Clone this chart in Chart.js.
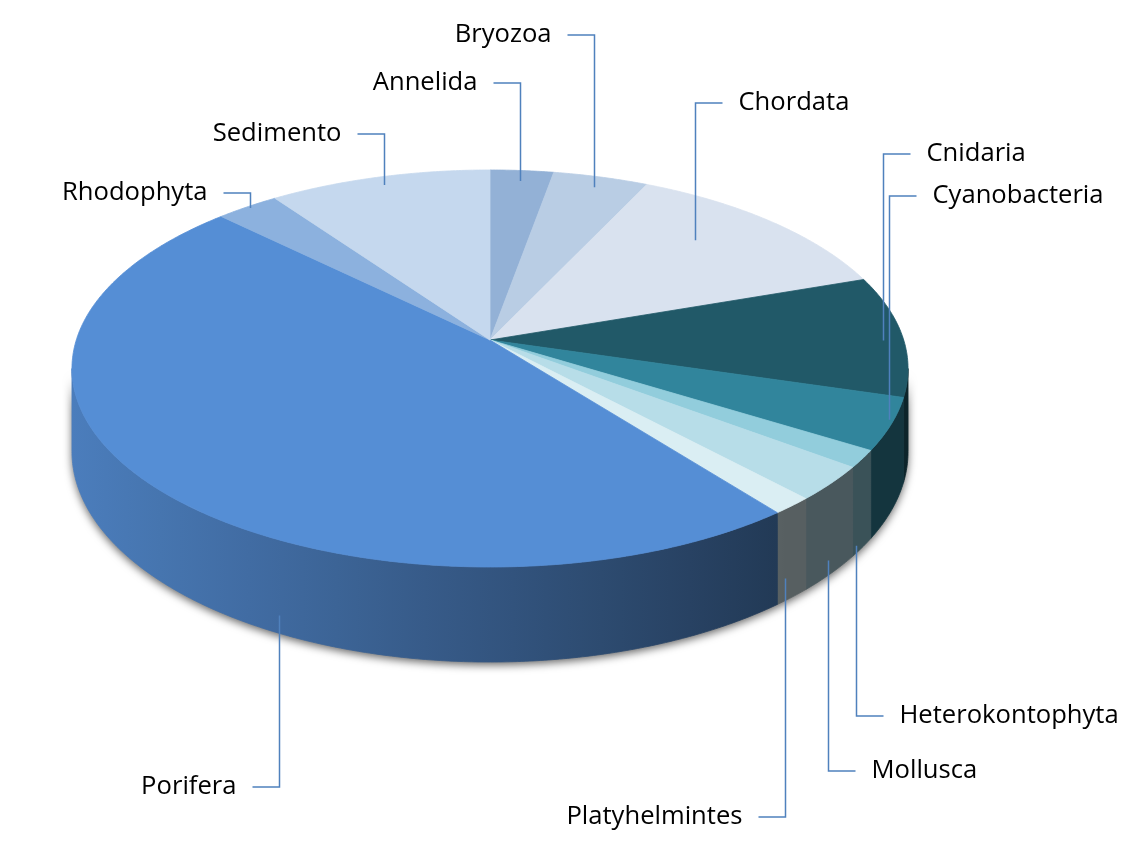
<!DOCTYPE html>
<html>
<head>
<meta charset="utf-8">
<title>Phyla</title>
<style>
	html, body { margin: 0; padding: 0; background: #ffffff; }
	#pieChart { display: block; }
</style>
</head>
<body>
<canvas id="pieChart" width="1131" height="846"></canvas>
<script src="https://cdn.jsdelivr.net/npm/chart.js@4/dist/chart.umd.min.js"></script>
<script>
const categories = [
	'Annelida',
	'Bryozoa',
	'Chordata',
	'Cnidaria',
	'Cyanobacteria',
	'Heterokontophyta',
	'Mollusca',
	'Platyhelmintes',
	'Porifera',
	'Rhodophyta',
	'Sedimento',
];
const counts = [2, 3, 9, 7, 3, 1, 2, 1, 34, 2, 7];
const topColors = [
	'#93b1d6',
	'#b9cde4',
	'#d9e2ef',
	'#215968',
	'#31859c',
	'#92cddc',
	'#b7dde8',
	'#daeef3',
	'#558ed5',
	'#8cb1de',
	'#c5d8ee',
];

// callout placement: text row, text side of the elbow, spot on the slice
// (at = fraction along the slice, r = radius on the top face, wall = height down the side)
const callouts = [
	{ y: 83, side: 'left', at: 0.5, r: 0.93 },
	{ y: 35, side: 'left', at: 0.5, r: 0.93 },
	{ y: 103, side: 'right', at: 0.41, r: 0.77 },
	{ y: 154, side: 'right', at: 0.54, r: 0.95 },
	{ y: 196, side: 'right', at: 0.43, r: 0.99 },
	{ y: 716, side: 'right', at: 0.8, wall: 0.92 },
	{ y: 771, side: 'right', at: 0.57, wall: 0.83 },
	{ y: 817, side: 'left', at: 0.73, wall: 0.76 },
	{ y: 787, side: 'left', at: 0.374, wall: 0.81 },
	{ y: 193, side: 'left', at: 0.5, r: 0.99 },
	{ y: 134, side: 'left', at: 0.5, r: 0.945 },
];

// tilt / perspective of the disc, relative to the pie radius
const SCALE_X = 1.2168;
const SCALE_Y = 0.5718;
const DEPTH = 0.2394;
const PERSPECTIVE = 0.1435;

function shade(hex, f) {
	const n = parseInt(hex.slice(1), 16);
	const r = Math.round(((n >> 16) & 255) * f);
	const g = Math.round(((n >> 8) & 255) * f);
	const b = Math.round((n & 255) * f);
	return `rgb(${r},${g},${b})`;
}

function project(geo, theta, r, h) {
	const u = r * Math.sin(theta);
	const v = r * Math.cos(theta);
	const w = 1 + PERSPECTIVE * v;
	return {
		x: geo.cx + (geo.a * u) / w,
		y: geo.cy + (-geo.b * v + geo.d * h) / w,
	};
}

function geometry(chart) {
	const arc = chart.getDatasetMeta(0).data[0];
	const R = arc.outerRadius;
	return { cx: arc.x, cy: arc.y, a: R * SCALE_X, b: R * SCALE_Y, d: R * DEPTH };
}

// chart.js angles start at -PI/2; theta is measured clockwise from 12 o'clock
function sliceAngles(arc) {
	return [arc.startAngle + Math.PI / 2, arc.endAngle + Math.PI / 2];
}

function traceEdge(ctx, geo, from, to, h, first, shiftX = 0) {
	const steps = Math.max(2, Math.ceil(Math.abs(to - from) / 0.008));
	for (let i = 0; i <= steps; i++) {
		const p = project(geo, from + ((to - from) * i) / steps, 1, h);
		if (i === 0 && first) ctx.moveTo(p.x + shiftX, p.y);
		else ctx.lineTo(p.x + shiftX, p.y);
	}
}

const pie3d = {
	id: 'pie3d',
	beforeDatasetsDraw(chart) {
		const ctx = chart.ctx;
		const geo = geometry(chart);
		const arcs = chart.getDatasetMeta(0).data;
		const colors = chart.data.datasets[0].backgroundColor;
		const rimStart = Math.PI / 2 + Math.asin(PERSPECTIVE);
		const rimEnd = 2 * Math.PI - rimStart;

		// soft shadow under the rim (shape drawn off canvas, only its shadow lands)
		const off = 5000;
		ctx.save();
		ctx.beginPath();
		traceEdge(ctx, geo, rimStart, rimEnd, 0, true, -off);
		traceEdge(ctx, geo, rimEnd, rimStart, 1, false, -off);
		ctx.closePath();
		ctx.shadowColor = 'rgba(0,0,0,0.6)';
		ctx.shadowBlur = 9;
		ctx.shadowOffsetX = off;
		ctx.shadowOffsetY = 3;
		ctx.fillStyle = '#000000';
		ctx.fill();
		ctx.restore();

		// visible side walls, lit from the left
		arcs.forEach((arc, i) => {
			const [s, e] = sliceAngles(arc);
			const lo = Math.max(s, rimStart);
			const hi = Math.min(e, rimEnd);
			if (lo >= hi) return;
			const p0 = project(geo, lo, 1, 0);
			const p1 = project(geo, hi, 1, 0);
			const x0 = Math.min(p0.x, p1.x);
			const x1 = Math.max(p0.x, p1.x) + 0.01;
			const grad = ctx.createLinearGradient(x0, 0, x1, 0);
			for (let k = 0; k <= 8; k++) {
				const x = x0 + ((x1 - x0) * k) / 8;
				const t = (x - geo.cx) / geo.a;
				grad.addColorStop(k / 8, shade(colors[i], Math.max(0.4, 0.6 - 0.28 * t)));
			}
			ctx.beginPath();
			traceEdge(ctx, geo, lo, hi, 0, true);
			traceEdge(ctx, geo, hi, lo, 1, false);
			ctx.closePath();
			ctx.fillStyle = grad;
			ctx.fill();
			ctx.strokeStyle = grad;
			ctx.lineWidth = 0.8;
			ctx.stroke();
		});

		// top faces
		arcs.forEach((arc, i) => {
			const [s, e] = sliceAngles(arc);
			ctx.beginPath();
			ctx.moveTo(geo.cx, geo.cy);
			traceEdge(ctx, geo, s, e, 0, false);
			ctx.closePath();
			ctx.fillStyle = colors[i];
			ctx.fill();
			ctx.strokeStyle = colors[i];
			ctx.lineWidth = 0.8;
			ctx.stroke();
		});

		return false;
	},
	afterDraw(chart) {
		const ctx = chart.ctx;
		const geo = geometry(chart);
		const arcs = chart.getDatasetMeta(0).data;
		ctx.save();
		ctx.font = '25.6px "Open Sans", "Noto Sans", sans-serif';
		ctx.textBaseline = 'middle';
		ctx.lineWidth = 1.5;
		arcs.forEach((arc, i) => {
			const c = callouts[i];
			const [s, e] = sliceAngles(arc);
			const theta = s + (e - s) * c.at;
			const p = c.wall !== undefined
				? project(geo, theta, 1, c.wall)
				: project(geo, theta, c.r, 0);
			const dir = c.side === 'left' ? -1 : 1;
			const x = Math.round(p.x) + 0.5;
			ctx.strokeStyle = '#4f81bd';
			ctx.beginPath();
			ctx.moveTo(x, p.y);
			ctx.lineTo(x, c.y);
			ctx.lineTo(x + dir * 27, c.y);
			ctx.stroke();
			ctx.fillStyle = '#000000';
			ctx.textAlign = dir < 0 ? 'right' : 'left';
			ctx.fillText(chart.data.labels[i], x + dir * 43, c.y);
		});
		ctx.restore();
	},
};

new Chart(document.getElementById('pieChart'), {
	type: 'pie',
	data: {
		labels: categories,
		datasets: [
			{
				data: counts,
				backgroundColor: topColors,
				borderWidth: 0,
			},
		],
	},
	options: {
		responsive: false,
		animation: false,
		events: [],
		layout: {
			padding: { left: 0, right: 151, top: 0, bottom: 166 },
		},
		plugins: {
			legend: { display: false },
			tooltip: { enabled: false },
		},
	},
	plugins: [pie3d],
});
</script>
</body>
</html>
